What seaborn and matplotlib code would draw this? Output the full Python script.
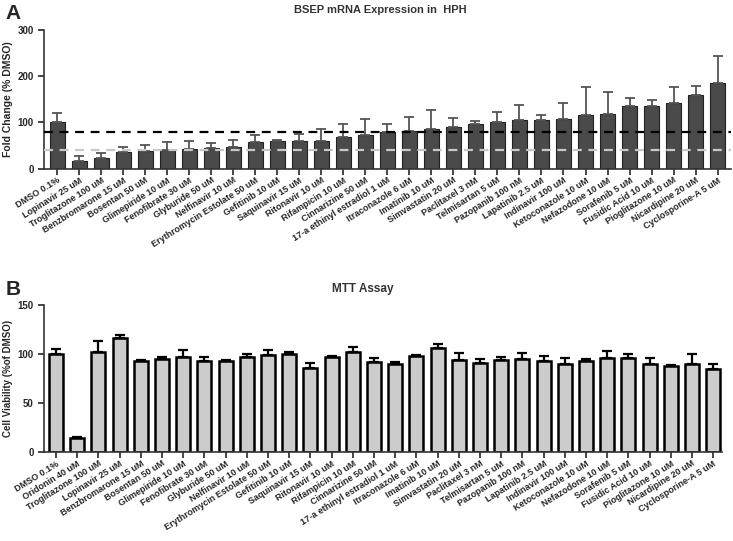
import numpy as np
import pandas as pd
import matplotlib
matplotlib.use("Agg")
import matplotlib.pyplot as plt
import seaborn as sns

# panel A: BSEP mRNA expression
bsep_drugs = ["DMSO 0.1%", "Lopinavir 25 uM", "Troglitazone 100 uM", "Benzbromarone 15 uM",
              "Bosentan 50 uM", "Glimepiride 10 uM", "Fenofibrate 30 uM", "Glyburide 50 uM",
              "Nelfinavir 10 uM", "Erythromycin Estolate 50 uM", "Gefitinib 10 uM",
              "Saquinavir 15 uM", "Ritonavir 10 uM", "Rifampicin 10 uM", "Cinnarizine 50 uM",
              "17-a ethinyl estradiol 1 uM", "Itraconazole 6 uM", "Imatinib 10 uM",
              "Simvastatin 20 uM", "Paclitaxel 3 nM", "Telmisartan 5 uM", "Pazopanib 100 nM",
              "Lapatinib 2.5 uM", "Indinavir 100 uM", "Ketoconazole 10 uM", "Nefazodone 10 uM",
              "Sorafenib 5 uM", "Fusidic Acid 10 uM", "Pioglitazone 10 uM",
              "Nicardipine 20 uM", "Cyclosporine-A 5 uM"]
bsep_mean = [102, 17, 24, 37, 39, 40, 42, 45, 47, 58, 59, 60, 61, 68, 73,
             80, 82, 86, 90, 96, 101, 106, 106, 108, 115, 119, 135, 136, 142, 159, 186]
bsep_err = [19, 10, 9, 11, 13, 18, 17, 10, 16, 14, 4, 15, 25, 29, 35,
            16, 30, 41, 20, 8, 21, 31, 9, 35, 61, 46, 18, 12, 35, 20, 58]
bsep_lines = [80, 40]

# panel B: MTT assay
mtt_drugs = ["DMSO 0.1%", "Oridonin 40 uM"] + bsep_drugs[2:3] + bsep_drugs[1:2] + bsep_drugs[3:]
mtt_mean = [100, 14.5, 102, 116, 92.5, 95, 97, 93, 92.5, 97, 99, 100, 85.5, 97, 102, 92,
            89.5, 97.5, 106, 94, 91, 93.5, 95, 92.5, 90, 92.5, 96, 95.5, 90, 87.5, 89.5, 85]
mtt_err = [5, 0.8, 11, 3, 1.5, 2, 7, 3.5, 1.5, 3, 5, 2, 5.5, 1, 5, 3.5,
           2.5, 1.3, 4, 6.5, 4, 3, 6, 5, 6, 2, 7, 4, 6, 1, 10.5, 5]

sns.set_style("ticks")
plt.rcParams['font.family'] = ['Liberation Sans', 'DejaVu Sans']
plt.rcParams['font.weight'] = 'bold'

fig = plt.figure(figsize=(7.33, 5.41), dpi=100)
ax1 = fig.add_axes([0.060, 0.688, 0.937, 0.257])
ax2 = fig.add_axes([0.060, 0.1645, 0.925, 0.272])


def draw_panel(ax, names, means, errs, face, edge, lw, errcol, elw, width):
    df = pd.DataFrame({'drug': names, 'value': means})
    sns.barplot(data=df, x='drug', y='value', color=face, saturation=1,
                edgecolor=edge, linewidth=lw, width=width, ax=ax)
    xs = np.arange(len(names))
    ax.errorbar(xs, means, yerr=[np.zeros(len(errs)), errs], fmt='none',
                ecolor=errcol, elinewidth=elw, capsize=3.5, capthick=elw, zorder=1)
    sns.despine(ax=ax)
    ax.set_xlabel('')
    ax.tick_params(axis='x', length=4, width=1.2, pad=1)
    ax.tick_params(axis='y', length=4, width=1.2, labelsize=7)
    for lab in ax.get_xticklabels():
        lab.set_rotation(32)
        lab.set_ha('right')
        lab.set_rotation_mode('anchor')
        lab.set_fontsize(6.5)
        lab.set_fontweight('bold')
    for sp in ax.spines.values():
        sp.set_linewidth(1.2)
        sp.set_color('#333333')


draw_panel(ax1, bsep_drugs, bsep_mean, bsep_err, '#4a4a4a', '#222222', 0.8, '#555555', 1.3, 0.68)
ax1.set_xlim(-0.6, len(bsep_drugs) - 0.4)
ax1.set_ylim(0, 300)
ax1.set_yticks([0, 100, 200, 300])
ax1.axhline(bsep_lines[0], color='black', ls='--', lw=1.6, dashes=(4, 3), zorder=3)
ax1.axhline(bsep_lines[1], color='#c8c8c8', ls='--', lw=1.6, dashes=(4, 3), zorder=3)
ax1.set_ylabel('Fold Change (% DMSO)', fontsize=7.5, fontweight='bold', labelpad=3)
ax1.set_title('BSEP mRNA Expression in  HPH', fontsize=8, fontweight='bold',
              color='#333333', x=0.49, pad=12)

draw_panel(ax2, mtt_drugs, mtt_mean, mtt_err, '#cccccc', 'black', 1.8, 'black', 1.6, 0.66)
ax2.set_xlim(-0.57, len(mtt_drugs) - 0.58)
ax2.set_ylim(0, 150)
ax2.set_yticks([0, 50, 100, 150])
ax2.set_ylabel('Cell Viability (%of DMSO)', fontsize=7, fontweight='bold', labelpad=3)
ax2.set_title('MTT Assay', fontsize=8.5, fontweight='bold', color='#333333', x=0.47, pad=9)

fig.text(0.008, 0.975, 'A', fontsize=15, fontweight='bold', va='center')
fig.text(0.008, 0.465, 'B', fontsize=15, fontweight='bold', va='center')

fig.savefig('out.png', dpi=100)
